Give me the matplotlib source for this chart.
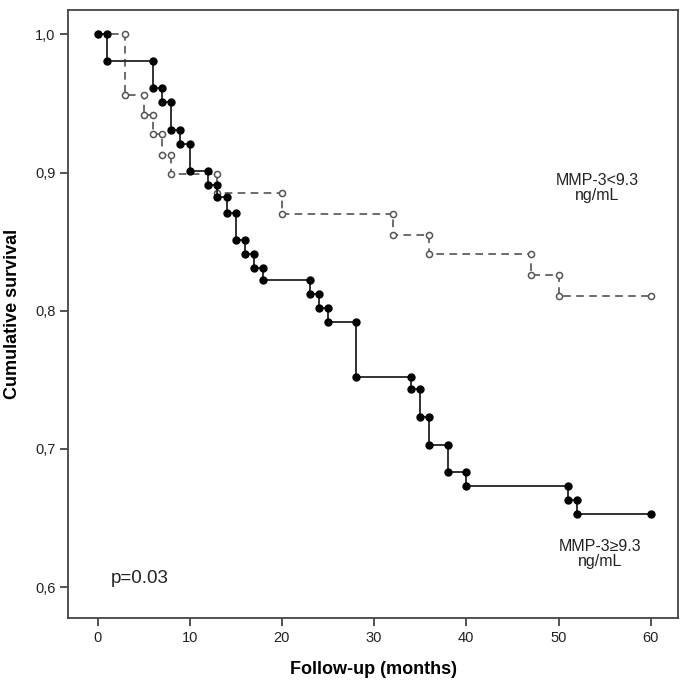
import numpy as np
import matplotlib
matplotlib.use('Agg')
import matplotlib.pyplot as plt

plt.rcParams['font.family'] = ['Liberation Sans', 'DejaVu Sans']

# MMP-3 >= 9.3 ng/mL : event times (months) and survival after each step
high_t = [1, 6, 7, 8, 9, 10, 12, 13, 14, 15, 16, 17, 18, 23, 24, 25, 28,
          34, 35, 36, 38, 40, 51, 52]
high_s = [0.981, 0.961, 0.951, 0.931, 0.921, 0.901, 0.891, 0.882, 0.871,
          0.851, 0.841, 0.831, 0.822, 0.812, 0.802, 0.792, 0.752, 0.743,
          0.723, 0.703, 0.683, 0.673, 0.663, 0.653]

# MMP-3 < 9.3 ng/mL
low_t = [3, 5, 6, 7, 8, 13, 20, 32, 36, 47, 50]
low_s = [0.956, 0.942, 0.928, 0.913, 0.899, 0.885, 0.870, 0.855, 0.841,
         0.826, 0.811]

end_t = 60
x_ticks = [0, 10, 20, 30, 40, 50, 60]
y_ticks = [0.6, 0.7, 0.8, 0.9, 1.0]
y_labels = ['0,6', '0,7', '0,8', '0,9', '1,0']


# build step vertices (corner points of the KM curve)
def km_steps(times, surv, end):
    xs = [0]
    ys = [1.0]
    prev = 1.0
    for t, s in zip(times, surv):
        xs += [t, t]
        ys += [prev, s]
        prev = s
    xs.append(end)
    ys.append(prev)
    return xs, ys


fig = plt.figure(figsize=(6.85, 6.89), dpi=100)
ax = fig.add_axes([68 / 685, 71 / 689, 610 / 685, 608 / 689])

lx, ly = km_steps(low_t, low_s, end_t)
ax.plot(lx, ly, color='#444444', lw=1.1, ls=(0, (5, 3.5)),
        marker='o', ms=4.4, mfc='white', mec='#555555', mew=1.1, zorder=2)

hx, hy = km_steps(high_t, high_s, end_t)
ax.plot(hx, hy, color='#222222', lw=1.3,
        marker='o', ms=5.0, mfc='black', mec='black', zorder=3)

ax.set_xlim(-3.2, 62.96)
ax.set_ylim(0.5776, 1.0177)
ax.set_xticks(x_ticks)
ax.set_yticks(y_ticks)
ax.set_yticklabels(y_labels)
ax.tick_params(direction='out', length=6, width=1.3, color='#444444',
               labelsize=10.5, labelcolor='#222222', pad=3)
for sp in ax.spines.values():
    sp.set_color('#444444')
    sp.set_linewidth(1.3)

ax.set_xlabel('Follow-up (months)', fontsize=13, fontweight='bold', labelpad=12)
ax.set_ylabel('Cumulative survival', fontsize=13, fontweight='bold', labelpad=10)

ax.text(54.2, 0.889, 'MMP-3<9.3\nng/mL', ha='center', va='center',
        fontsize=11.5, color='#222222', linespacing=1.0)
ax.text(54.5, 0.624, 'MMP-3\u22659.3\nng/mL', ha='center', va='center',
        fontsize=11.5, color='#222222', linespacing=1.0)
ax.text(1.4, 0.606, 'p=0.03', ha='left', va='center',
        fontsize=13.5, color='#222222')

fig.savefig('out.png', dpi=100)
